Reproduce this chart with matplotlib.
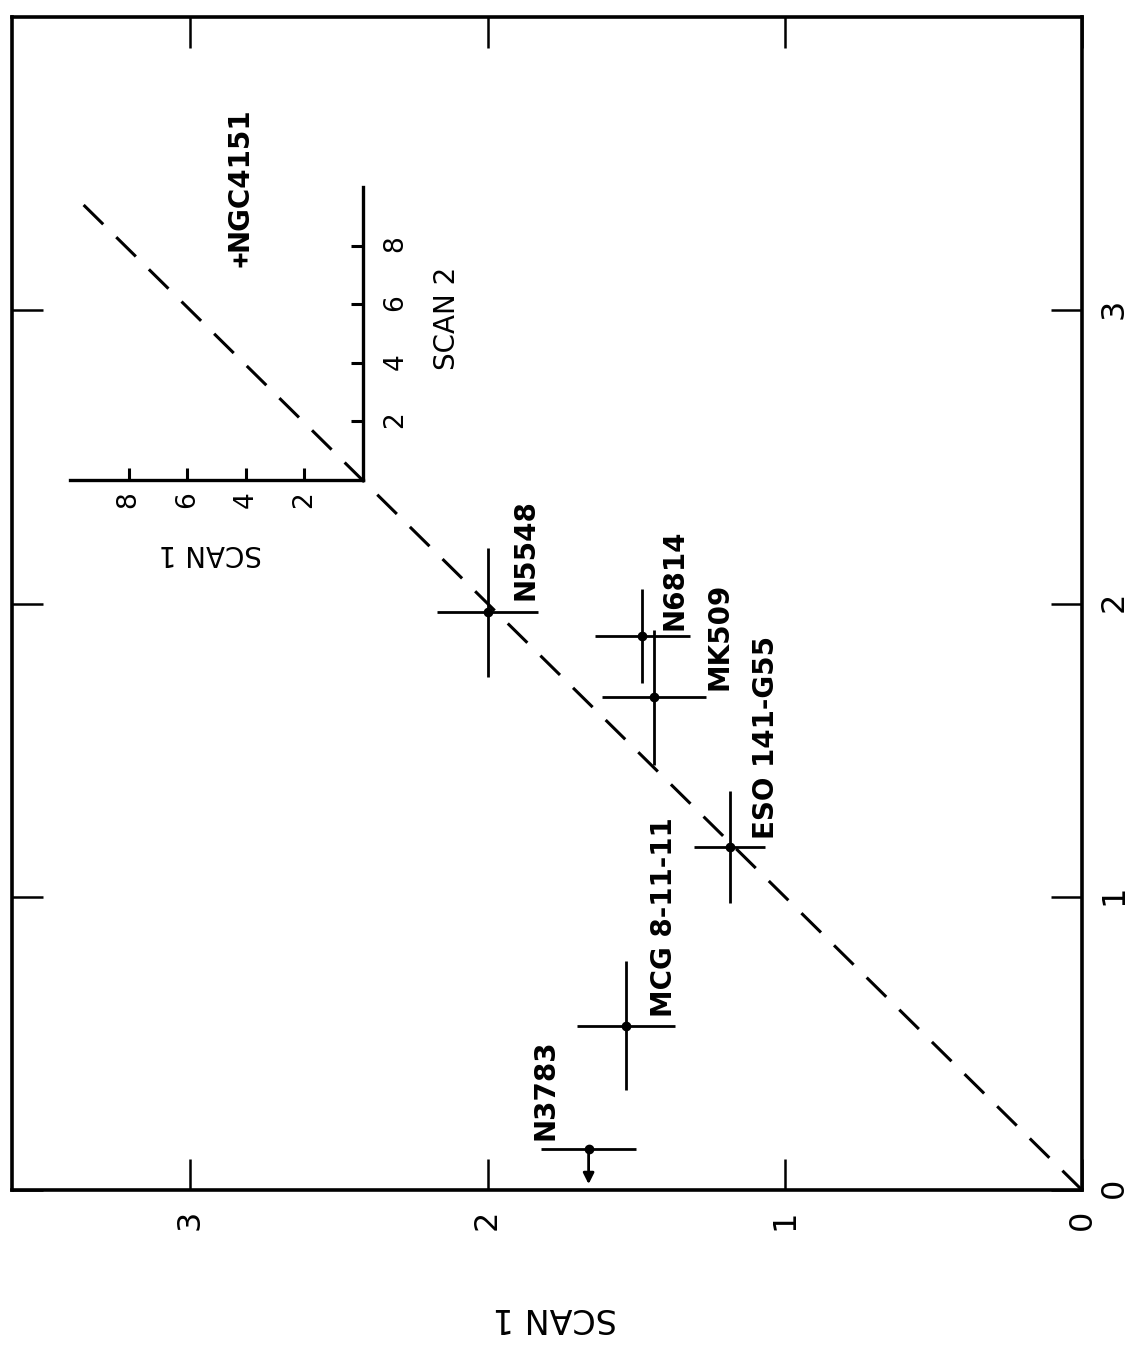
import matplotlib.pyplot as plt

plt.rcParams['font.family'] = ['DejaVu Sans']

# galaxies with error bars (SCAN 1 runs along the image x axis, SCAN 2 upward)
names = ['N5548', 'N6814', 'MK509', 'ESO 141-G55', 'MCG 8-11-11']
scan1 = [2.00, 1.48, 1.44, 1.185, 1.535]
scan1_err = [0.17, 0.16, 0.175, 0.12, 0.165]
scan2 = [1.97, 1.89, 1.68, 1.17, 0.56]
scan2_err = [0.22, 0.16, 0.23, 0.19, 0.22]

# upper limit
lim_name = 'N3783'
lim_scan1 = 1.66
lim_scan1_err = 0.16
lim_scan2 = 0.14
lim_arrow = 0.12

# NGC4151 in the inset
ngc_scan1 = 4.2
ngc_scan2 = 7.5

one_to_one_end = 3.4

# label offsets in pixels (screen)
label_offsets = [(38, 12), (32, 6), (65, 7), (36, 8), (38, 9)]
lim_offset = (-43, 9)

fig = plt.figure(figsize=(11.44, 13.66), dpi=100)
ax = fig.add_axes([12 / 1144, 176 / 1366, 1070 / 1144, 1173 / 1366])

ax.plot([0, one_to_one_end], [0, one_to_one_end], color='k', lw=2.2,
        dashes=(9, 6))
ax.errorbar(scan1, scan2, xerr=scan1_err, yerr=scan2_err, fmt='o',
            color='k', ms=6, elinewidth=2, capsize=0)
ax.errorbar([lim_scan1], [lim_scan2], xerr=[lim_scan1_err], fmt='o',
            color='k', ms=6, elinewidth=2, capsize=0)
ax.annotate('', xy=(lim_scan1, lim_scan2 - lim_arrow),
            xytext=(lim_scan1, lim_scan2),
            arrowprops=dict(arrowstyle='-|>', color='k', lw=2,
                            mutation_scale=16, shrinkA=0, shrinkB=0))

txt = dict(rotation=90, rotation_mode='anchor', ha='left', va='center',
           fontsize=20, fontweight='bold', textcoords='offset pixels')
for n, x, y, off in zip(names, scan1, scan2, label_offsets):
    ax.annotate(n, (x, y), xytext=off, **txt)
ax.annotate(lim_name, (lim_scan1, lim_scan2), xytext=lim_offset, **txt)

ax.set_xlim(3.6, 0)
ax.set_ylim(0, 4.0)
ax.set_xticks([0, 1, 2, 3])
ax.set_yticks([0, 1, 2, 3])
ax.yaxis.tick_right()
ax.tick_params(which='both', direction='in', length=22, width=1.8,
               top=True, bottom=True, left=True, right=True,
               labelsize=23, labelrotation=90)
ax.tick_params(axis='x', pad=14)
ax.tick_params(axis='y', pad=12)
for s in ax.spines.values():
    s.set_linewidth(2.6)
ax.text(0.507, -0.109, 'SCAN 1', transform=ax.transAxes, rotation=180,
        ha='center', va='center', fontsize=24)

# inset
ins = fig.add_axes([70 / 1144, 886 / 1366, 293 / 1144, 293 / 1366])
ins.patch.set_alpha(0)
ins.set_xlim(10, 0)
ins.set_ylim(0, 10)
ins.spines['top'].set_visible(False)
ins.spines['left'].set_visible(False)
ins.spines['right'].set_linewidth(2.4)
ins.spines['bottom'].set_linewidth(2.4)
ins.yaxis.tick_right()
ins.set_xticks([2, 4, 6, 8])
ins.set_yticks([2, 4, 6, 8])
ins.tick_params(direction='in', length=9, width=2.2, labelsize=19,
                labelrotation=90)
ins.tick_params(axis='x', pad=8)
ins.tick_params(axis='y', pad=14)
ins.plot([ngc_scan1], [ngc_scan2], marker='+', color='k', ms=10, mew=2.5)
ins.annotate('NGC4151', (ngc_scan1, ngc_scan2), xytext=(0, 9),
             textcoords='offset pixels', rotation=90, rotation_mode='anchor',
             ha='left', va='center', fontsize=20, fontweight='bold')
ins.text(1.287, 0.553, 'SCAN 2', transform=ins.transAxes, rotation=90,
         ha='center', va='center', fontsize=20)
ins.text(0.478, -0.249, 'SCAN 1', transform=ins.transAxes, rotation=180,
         ha='center', va='center', fontsize=20)

fig.savefig('out.png', dpi=100)
